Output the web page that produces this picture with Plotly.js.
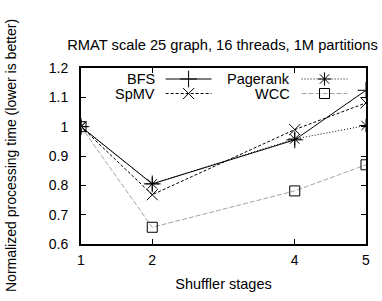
<!DOCTYPE html>
<html>
<head>
<meta charset="utf-8">
<script src="https://cdn.plot.ly/plotly-3.0.1.min.js"></script>
<style>html,body{margin:0;padding:0;background:#fff;}#chart{width:382px;height:301px;}</style>
</head>
<body>
<div id="chart"></div>
<script>
var stages = [1, 2, 4, 5];
var bfs = [1.0, 0.805, 0.955, 1.124];
var spmv = [1.0, 0.768, 0.990, 1.081];
var pagerank = [1.0, 0.805, 0.958, 1.004];
var wcc = [1.0, 0.657, 0.781, 0.870];
var seriesNames = ['BFS', 'SpMV', 'Pagerank', 'WCC'];
var xTicks = [1, 2, 4, 5];
var yTicks = [0.6, 0.7, 0.8, 0.9, 1.0, 1.1, 1.2];
var yTickText = ['0.6', '0.7', '0.8', '0.9', '1', '1.1', '1.2'];

var FONT = 'Liberation Sans, Arial, Helvetica, sans-serif';
var styles = [
  {color: '#000', dash: 'solid', width: 1, symbol: 'cross-thin-open', size: 12},
  {color: '#000', dash: '3px,2px', width: 1, symbol: 'x-thin-open', size: 11},
  {color: '#000', dash: '1px,2px', width: 1, symbol: 'asterisk-open', size: 11},
  {color: '#999', dash: '5px,2px', width: 0.9, symbol: 'square-open', size: 10}
];
var data = [bfs, spmv, pagerank, wcc];

var traces = [];
data.forEach(function (vals, i) {
  var s = styles[i];
  traces.push({
    x: stages, y: vals, type: 'scatter', mode: 'lines+markers', name: seriesNames[i],
    showlegend: false, hoverinfo: 'skip',
    line: {color: s.color, dash: s.dash, width: s.width},
    marker: {symbol: s.symbol, size: s.size, color: '#000', line: {color: '#000', width: 1}}
  });
});

// custom gnuplot-style legend (sample to the right of the label)
var legendPos = [
  {x0: 0.297, x1: 0.458, y: 0.9375, tx: 0.265},
  {x0: 0.297, x1: 0.458, y: 0.855, tx: 0.265},
  {x0: 0.774, x1: 0.935, y: 0.9375, tx: 0.742},
  {x0: 0.774, x1: 0.935, y: 0.855, tx: 0.742}
];
var annotations = [];
legendPos.forEach(function (p, i) {
  var s = styles[i];
  traces.push({
    x: [p.x0, p.x1], y: [p.y, p.y], xaxis: 'x2', yaxis: 'y2', type: 'scatter', mode: 'lines',
    showlegend: false, hoverinfo: 'skip',
    line: {color: s.color, dash: s.dash, width: s.width}
  });
  traces.push({
    x: [(p.x0 + p.x1) / 2], y: [p.y], xaxis: 'x2', yaxis: 'y2', type: 'scatter', mode: 'markers',
    showlegend: false, hoverinfo: 'skip',
    marker: {symbol: s.symbol, size: s.size, color: '#000', line: {color: '#000', width: 1}}
  });
  annotations.push({
    xref: 'x2', yref: 'y2', x: p.tx, y: p.y, text: seriesNames[i], showarrow: false,
    xanchor: 'right', yanchor: 'middle', font: {family: FONT, size: 14.5, color: '#000'}
  });
});

annotations.push({
  xref: 'paper', yref: 'paper', x: -0.2456, y: 0.5, xanchor: 'center', yanchor: 'middle',
  textangle: -90, showarrow: false,
  text: 'Normalized processing time (lower is better)',
  font: {family: FONT, size: 14, color: '#000'}
});

var layout = {
  width: 382, height: 301,
  margin: {l: 81, r: 16, t: 68, b: 57},
  paper_bgcolor: '#fff', plot_bgcolor: '#fff',
  showlegend: false,
  font: {family: FONT, size: 14, color: '#000'},
  title: {text: 'RMAT scale 25 graph, 16 threads, 1M partitions', x: 0.5825, xanchor: 'center', y: 0.85, yanchor: 'middle',
          font: {family: FONT, size: 14.7, color: '#000'}},
  xaxis: {
    range: [1, 5], tickvals: xTicks, ticktext: xTicks.map(String),
    ticks: 'inside', ticklen: 5, tickwidth: 1, tickcolor: '#000',
    showline: true, linecolor: '#000', linewidth: 2, mirror: 'ticks',
    showgrid: false, zeroline: false, ticklabelstandoff: 2,
    tickfont: {family: FONT, size: 14},
    title: {text: 'Shuffler stages', font: {family: FONT, size: 14.5}, standoff: 12}
  },
  yaxis: {
    range: [0.6, 1.2], tickvals: yTicks, ticktext: yTickText,
    ticks: 'inside', ticklen: 5, tickwidth: 1, tickcolor: '#000',
    showline: true, linecolor: '#000', linewidth: 2, mirror: 'ticks',
    showgrid: false, zeroline: false, ticklabelstandoff: 8,
    tickfont: {family: FONT, size: 14}
  },
  xaxis2: {range: [0, 1], overlaying: 'x', visible: false, fixedrange: true},
  yaxis2: {range: [0, 1], overlaying: 'y', visible: false, fixedrange: true},
  annotations: annotations
};

Plotly.newPlot('chart', traces, layout, {displayModeBar: false, staticPlot: true});
</script>
</body>
</html>
